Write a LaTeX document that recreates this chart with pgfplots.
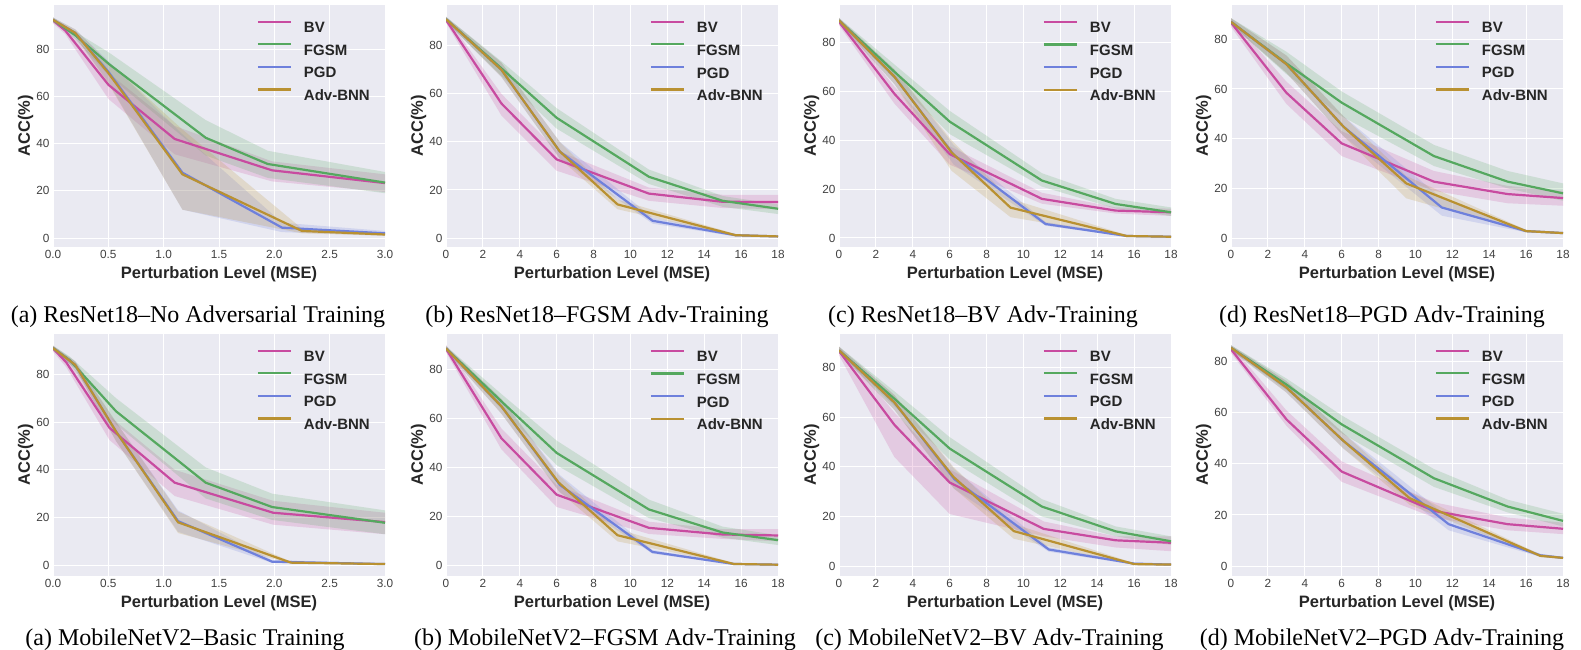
\documentclass[border=0pt]{standalone}
\usepackage{fontspec}
\setmainfont{Liberation Sans}
\newfontfamily\capfont{Liberation Serif}
\usepackage{pgfplots}
\pgfplotsset{compat=1.18}
\usepackage{pgfplotstable}
\usepgfplotslibrary{fillbetween}

\definecolor{bgc}{RGB}{234,234,242}
\definecolor{bvc}{RGB}{200,75,160}
\definecolor{fgc}{RGB}{85,168,95}
\definecolor{pgc}{RGB}{110,128,220}
\definecolor{abc}{RGB}{185,145,50}

% columns: b = BV, f = FGSM, p = PGD, a = Adv-BNN ; x, mean, lower, upper
\pgfplotstableread{
bx by blo bhi fx fy flo fhi px py plo phi ax ay alo ahi
0 92.3 91 93.5 0 92.5 91.5 93.5 0 92.5 91.5 93.5 0 92.5 91.5 93.5
0.11 88 86.5 89.5 0.2 86 84.5 87.5 0.2 87 85.5 88.5 0.2 87 85.5 88.5
0.5 65 59 70 0.51 73.6 68.5 78.5 0.5 70.5 66 75 0.5 70 65.5 74.5
1.1 42 35.5 47.5 1.38 42.5 35 50 1.17 27.7 12 44 1.17 27 12 46
1.98 28.7 24 32.5 1.94 31.4 25.5 37 2.07 4.4 2.5 6.5 2.25 3 2 4
3 23.3 19.5 27 3 23.5 19 28 3 2 1 3 3 1.5 1 2
}\rA
\pgfplotstableread{
bx by blo bhi fx fy flo fhi px py plo phi ax ay alo ahi
0 90.7 89.5 92 0 91 90 92 0 91 90 92 0 91 90 92
3 56 51 60 3 70.6 67.5 73.5 3 70 67 73 3 70 67 73
6 32.7 28 36.5 6 50 45.5 54 6.17 36 33 40 6.17 36 33 40
11 18.5 15.5 21 11 25.5 22.5 28.5 11.2 7.2 6 8.5 9.3 14 12 16
15 15.1 12.5 18 15 15.5 13 17.5 15.7 1.2 0.7 1.7 15.7 1.2 0.7 1.7
18 15 12 18 18 12.2 10 14 18 0.7 0.4 1 18 0.7 0.4 1
}\rB
\pgfplotstableread{
bx by blo bhi fx fy flo fhi px py plo phi ax ay alo ahi
0 88.4 87 90 0 89 88 90 0 89 88 90 0 89 88 90
3 59 55 62 3 68 65 71 3 66 63 69 3 66 63 69
6 34.3 30 37.5 6 47.6 42.5 52 6.22 34 30 38 6.1 35 27.5 40
11 16 14 18.5 11 23.5 21 26.5 11.2 5.7 5 6.5 9.3 12.4 8.5 16
15 11.2 10 12.5 15 13.9 12 16 15.6 0.8 0.5 1.2 15.6 0.8 0.5 1.2
18 10.5 9 12 18 10.5 9 12.5 18 0.5 0.3 0.8 18 0.5 0.3 0.8
}\rC
\pgfplotstableread{
bx by blo bhi fx fy flo fhi px py plo phi ax ay alo ahi
0 86.7 85 88.5 0 87 86 88.5 0 87 86 88.5 0 87 86 88.5
3 58.5 54 63 3 70.3 66 75 3 70 66.5 73.5 3 70 66.5 73.5
6 38.1 33 43 6 54.5 49 59 6.1 44.8 41 49 6.1 44.8 41 49
11 22.7 19 27 11 33 29 37.5 11.43 12.3 9 16 9.5 22 16 25
15 17.7 14 21 15 22.7 20 27 16 2.8 2.3 3.3 16 2.8 2.3 3.3
18 16.1 13 19 18 18 15 22 18 2 1.6 2.4 18 2 1.6 2.4
}\rD
\pgfplotstableread{
bx by blo bhi fx fy flo fhi px py plo phi ax ay alo ahi
0 90.9 89.5 92 0 91 90 92 0 91 90 92 0 91 90 92
0.12 85 83 87 0.15 86 84.5 87.5 0.2 84 82.5 85.5 0.2 84 82.5 85.5
0.51 57.6 52.5 62.5 0.57 64.5 59 70 0.57 56 52 60 0.57 56 52 60
1.1 34.6 29 40 1.38 34.6 28 41 1.13 18.5 14 23 1.13 18 13.5 22.5
1.99 22 17 27 1.98 24.4 19 30 1.98 1.5 1 2.2 2.15 1.1 0.7 1.5
3 18.1 13 22 3 17.8 13 23 3 0.5 0.3 0.8 3 0.5 0.3 0.8
}\mA
\pgfplotstableread{
bx by blo bhi fx fy flo fhi px py plo phi ax ay alo ahi
0 88.4 87 90 0 88.5 87.5 89.5 0 88.5 87.5 89.5 0 88.5 87.5 89.5
3 52 47.5 56 3 67 64 70 3 65 62 68 3 65 62 68
6 29 24 33 6 46 41 51 6.17 33 30 37 6.1 34 30.5 37
11 15.5 13 18 11 23 19.5 27 11.19 5.7 5 6.5 9.3 12.5 10 15
15 12.8 11 15 15 13.6 11.5 16 15.6 0.8 0.5 1.2 15.6 0.8 0.5 1.2
18 12.4 10 15 18 10.5 8.5 12.5 18 0.5 0.3 0.8 18 0.5 0.3 0.8
}\mB
\pgfplotstableread{
bx by blo bhi fx fy flo fhi px py plo phi ax ay alo ahi
0 86.7 85 88.5 0 87 86 88.5 0 87 86 88.5 0 87 86 88.5
3 57 44 62 3 67.5 64.5 70.5 3 66 63 69 3 66 63 69
6 33.7 21 39 6 47.4 43 52 6.26 35 31 39 6.2 36 31.5 40
11.1 15 12 18 11 24 20 27 11.37 6.7 5.8 7.6 9.48 14.1 11 17
15 10.4 7.5 12 15 14 12 16 16 1 0.6 1.4 16 0.8 0.5 1.2
18 9.4 6 12 18 10 8.5 12 18 0.6 0.3 0.9 18 0.6 0.3 0.9
}\mC
\pgfplotstableread{
bx by blo bhi fx fy flo fhi px py plo phi ax ay alo ahi
0 84.9 83.5 86.5 0 85.5 84.5 86.5 0 85.5 84.5 86.5 0 85.5 84.5 86.5
3 57.5 55 61 3 71.1 69 73.5 3 70 68 72.5 3 70 68 72.5
6 37 33 41 6 55.5 52 59 6.1 49 46 52 6.1 49 46 52
11 21.6 19 25 11 34.4 31 38 11.8 16.4 14 19 9.68 26.6 24 29
15 16.4 14 19 15 23.3 21 26 16.77 4.2 3.6 4.8 16.77 4 3.5 4.5
18 14.6 12.5 17 18 17.7 15.5 20.5 18 3.2 2.8 3.6 18 3.2 2.8 3.6
}\mD

\newcommand{\ser}[3]{%
  \addplot[name path=#2hi, draw=none, forget plot] table[x=#2x, y=#2hi]{#1};
  \addplot[name path=#2lo, draw=none, forget plot] table[x=#2x, y=#2lo]{#1};
  \addplot[fill=#3, fill opacity=0.2, draw=none, forget plot] fill between[of=#2hi and #2lo];
  \addplot[#3, line width=2.2pt] table[x=#2x, y=#2y]{#1};
}
\newcommand{\allser}[1]{%
  \ser{#1}{b}{bvc}\ser{#1}{f}{fgc}\ser{#1}{p}{pgc}\ser{#1}{a}{abc}
  \legend{BV,FGSM,PGD,Adv-BNN}
}

\pgfplotsset{
  panel/.style={
    scale only axis, width=332pt, height=242pt,
    anchor=south west,
    axis background/.style={fill=bgc},
    axis line style={draw=none},
    major tick length=0pt,
    grid=major, major grid style={white, line width=1pt},
    ytick={0,20,40,60,80},
    /pgf/number format/assume math mode=true,
    tick label style={font=\fontsize{11.8}{12}\selectfont, text=black!75},
    xlabel={Perturbation Level (MSE)}, ylabel={ACC(\%)},
    label style={font=\fontsize{16.5}{16.5}\selectfont\bfseries, text=black!85},
    xlabel style={at={([yshift=-31.5pt]rel axis cs:0.5,0)}, anchor=base},
    ylabel style={at={([xshift=-23.2pt]rel axis cs:0,0.5)}, anchor=base},
    legend style={at={(1,1)}, anchor=north east, xshift=-15pt, yshift=-15.5pt,
      draw=none, fill=none, inner sep=0pt, row sep=10.5pt, column sep=12pt,
      nodes={inner sep=0pt, text height=11pt, text depth=0pt},
      font=\fontsize{15}{15}\selectfont\bfseries, text=black!85},
    legend cell align=left,
    legend image code/.code={\draw[##1, line width=2.2pt] (0pt,5.5pt) -- (33pt,5.5pt);},
  },
  mseaxis/.style={xmin=0, xmax=3, xtick={0,0.5,...,3},
    xticklabel style={/pgf/number format/.cd, fixed, fixed zerofill, precision=1}},
  lvlaxis/.style={xmin=0, xmax=18, xtick={0,2,...,18}},
}

\begin{document}
\begin{tikzpicture}
\begin{axis}[panel, mseaxis, at={(53pt,402pt)}, ymin=-3.8, ymax=98.8]
\allser{\rA}
\end{axis}
\begin{axis}[panel, lvlaxis, at={(446pt,402pt)}, ymin=-3.7, ymax=96.9]
\allser{\rB}
\end{axis}
\begin{axis}[panel, lvlaxis, at={(839pt,402pt)}, ymin=-3.7, ymax=95.3]
\allser{\rC}
\end{axis}
\begin{axis}[panel, lvlaxis, at={(1231pt,402pt)}, ymin=-3.6, ymax=93.8]
\allser{\rD}
\end{axis}
\begin{axis}[panel, mseaxis, at={(53pt,73pt)}, ymin=-4.5, ymax=96.9]
\allser{\mA}
\end{axis}
\begin{axis}[panel, lvlaxis, at={(446pt,73pt)}, ymin=-4.1, ymax=94.4]
\allser{\mB}
\end{axis}
\begin{axis}[panel, lvlaxis, at={(839pt,73pt)}, ymin=-4.0, ymax=93.6]
\allser{\mC}
\end{axis}
\begin{axis}[panel, lvlaxis, at={(1231pt,73pt)}, ymin=-3.9, ymax=90.9]
\allser{\mD}
\end{axis}

\begin{scope}[every node/.style={anchor=base, font=\capfont\fontsize{24}{24}\selectfont}]
\node at (198pt,327pt) {(a) ResNet18–No Adversarial Training};
\node at (597pt,327pt) {(b) ResNet18–FGSM Adv-Training};
\node at (983pt,327pt) {(c) ResNet18–BV Adv-Training};
\node at (1382pt,327pt) {(d) ResNet18–PGD Adv-Training};
\node at (185pt,3.3pt) {(a) MobileNetV2–Basic Training};
\node at (605pt,3.3pt) {(b) MobileNetV2–FGSM Adv-Training};
\node at (989.5pt,3.3pt) {(c) MobileNetV2–BV Adv-Training};
\node at (1382pt,3.3pt) {(d) MobileNetV2–PGD Adv-Training};
\end{scope}

\pgfresetboundingbox
\path[use as bounding box] (0pt,0pt) rectangle (1581pt,649pt);
\end{tikzpicture}
\end{document}
